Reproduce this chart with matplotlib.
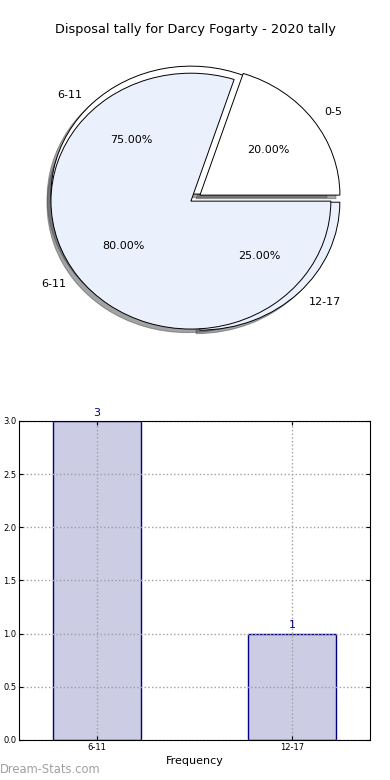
import matplotlib.pyplot as plt

title = "Disposal tally for Darcy Fogarty - 2020 tally"

# pie one
pie1_labels = ["0-5", "6-11"]
pie1_values = [1, 4]
# pie two
pie2_labels = ["6-11", "12-17"]
pie2_values = [3, 1]

bar_labels = ["6-11", "12-17"]
bar_values = [3, 1]

pie_colors = ["white", "#eaf0fc"]
bar_face = "#cccce4"
bar_edge = "#000080"

fig = plt.figure(figsize=(3.9, 7.8), dpi=100)
fig.text(0.5, 0.962, title, ha="center", va="center", fontsize=9.3)

ax1 = fig.add_axes([0.0526, 0.541, 0.897, 0.41])
wp = dict(edgecolor="black", linewidth=0.7)
ax1.pie(pie2_values, labels=pie2_labels, colors=pie_colors, explode=[0.045, 0.045],
        autopct="%1.2f%%", startangle=0, shadow=True, wedgeprops=wp,
        textprops=dict(fontsize=8))
ax1.pie(pie1_values, labels=pie1_labels, colors=pie_colors, explode=[0.04, 0.04],
        autopct="%1.2f%%", startangle=0, shadow=True, wedgeprops=wp,
        textprops=dict(fontsize=8))
ax1.set_aspect("auto")
ax1.set_xlim(-1.25, 1.25)
ax1.set_ylim(-1.25, 1.25)

ax2 = fig.add_axes([0.0487, 0.0513, 0.9, 0.409])
x = range(len(bar_values))
bars = ax2.bar(x, bar_values, width=0.45, color=bar_face, edgecolor=bar_edge,
               linewidth=1, zorder=2)
for xi, v in zip(x, bar_values):
    ax2.text(xi, v + 0.03, str(v), ha="center", va="bottom", color=bar_edge, fontsize=8)
ax2.set_xlim(-0.4, 1.4)
ax2.set_ylim(0, 3.0)
ax2.set_xticks(list(x))
ax2.set_xticklabels(bar_labels)
ax2.set_yticks([0, 0.5, 1.0, 1.5, 2.0, 2.5, 3.0])
ax2.set_yticklabels(["%.1f" % t for t in ax2.get_yticks()])
ax2.tick_params(direction="in", labelsize=6, top=True, right=True, length=3, pad=2)
ax2.grid(True, linestyle=":", color="#a0a0a0", linewidth=1, zorder=3)
ax2.set_axisbelow(False)
for sp in ax2.spines.values():
    sp.set_zorder(5)
ax2.set_xlabel("Frequency", fontsize=8, labelpad=3)

fig.text(0.0, 0.013, "Dream-Stats.com", color="#a0a0a0", fontsize=8.3,
         ha="left", va="center")

fig.savefig("out.png", dpi=100)
